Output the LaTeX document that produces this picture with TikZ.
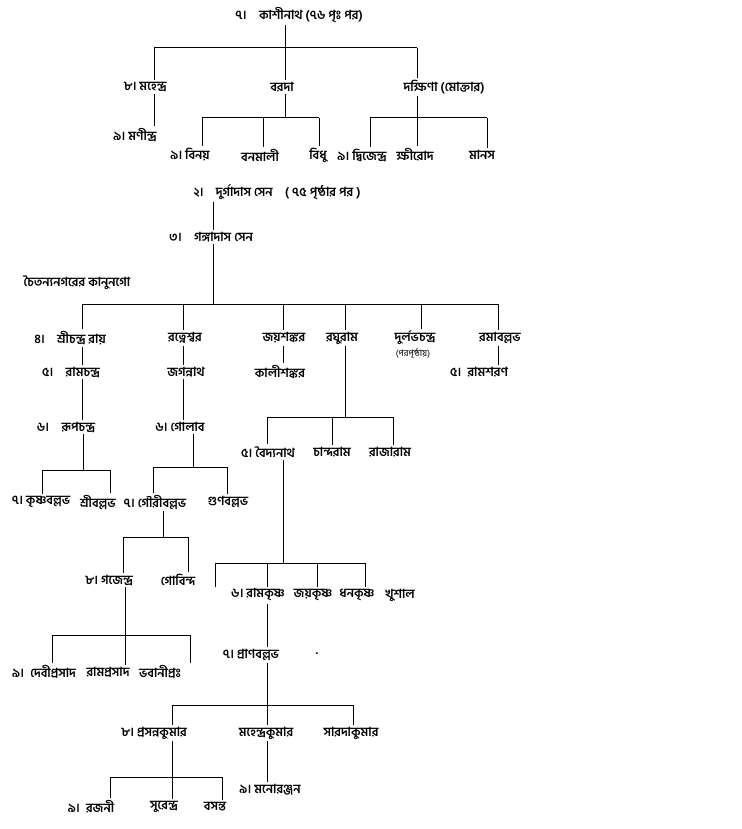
\documentclass[tikz,border=0pt]{standalone}
\usepackage{fontspec}
\newfontfamily\bn[Script=Bengali]{Hind Siliguri}
\begin{document}
\begin{tikzpicture}[x=1pt,y=-1pt]
 \tikzset{person/.style={inner sep=2pt, font=\bn\bfseries\fontsize{12.5}{15}\selectfont},
  note/.style={inner sep=1pt, font=\bn\fontsize{9}{11}\selectfont},
  tie/.style={line width=1pt}}
 \useasboundingbox (0,0) rectangle (741,829);
  % first table
  \node[person] (Kasi) at (299,15) {৭।\quad কাশীনাথ (৭৬ পৃঃ পর)};
  \node[person] (Mahen) at (145,87) {৮। মহেন্দ্র};
  \node[person] (Barada) at (282,87) {বরদা};
  \node[person] (Dakshina) at (444,87) {দক্ষিণা (মোক্তার)};
  \node[person] (Manin) at (135,135) {৯। মণীন্দ্র};
  \node[person] (Binay) at (190,155) {৯। বিনয়};
  \node[person] (Banamali) at (260,155) {বনমালী};
  \node[person] (Bidhu) at (318,155) {বিধু};
  \node[person] (Dwijen) at (362,155) {৯। দ্বিজেন্দ্র};
  \node[person] (Kshirod) at (415,155) {ক্ষীরোদ};
  \node[person] (Manas) at (482,155) {মানস};
  \coordinate (k1) at (154,48); \coordinate (k2) at (285,48); \coordinate (k3) at (417,48);
  \coordinate (b1) at (202,118); \coordinate (b2) at (263,118); \coordinate (b3) at (319,118);
  \coordinate (d1) at (370,118); \coordinate (d2) at (417,118); \coordinate (d3) at (487,118);
  \draw[tie] (k2 |- Kasi.south) -- (k2 |- Barada.north);
  \draw[tie] (k1) -- (k3);
  \draw[tie] (k1) -- (k1 |- Mahen.north);
  \draw[tie] (k3) -- (k3 |- Dakshina.north);
  \draw[tie] (k1 |- Mahen.south) -- (k1 |- Manin.north);
  \draw[tie] (k2 |- Barada.south) -- (k2 |- b1);
  \draw[tie] (b1) -- (b3);
  \draw[tie] (b1) -- (b1 |- Binay.north);
  \draw[tie] (b2) -- (b2 |- Banamali.north);
  \draw[tie] (b3) -- (b3 |- Bidhu.north);
  \draw[tie] (d2 |- Dakshina.south) -- (d2);
  \draw[tie] (d1) -- (d3);
  \draw[tie] (d1) -- (d1 |- Dwijen.north);
  \draw[tie] (d2) -- (d2 |- Kshirod.north);
  \draw[tie] (d3) -- (d3 |- Manas.north);
  % second table
  \node[person] (Durga) at (277,192) {২।\quad দুর্গাদাস সেন\quad( ৭৫ পৃষ্ঠার পর )};
  \node[person] (Ganga) at (211,237) {৩।\quad গঙ্গাদাস সেন};
  \node[person] (Kanungo) at (77,283) {চৈতন্যনগরের কানুনগো};
  \node[person] (Srichandra) at (70,338) {৪।\quad শ্রীচন্দ্র রায়};
  \node[person] (Ratnesh) at (185,338) {রত্নেশ্বর};
  \node[person] (Jaya) at (284,338) {জয়শঙ্কর};
  \node[person] (Raghu) at (342,338) {রঘুরাম};
  \node[person] (Durlabh) at (415,338) {দুর্লভচন্দ্র};
  \node[note] (Parapr) at (413,354) {(পরপৃষ্ঠায়)};
  \node[person] (Rama) at (500,338) {রমাবল্লভ};
  \node[person] (Ramchandra) at (71,372) {৫।\quad রামচন্দ্র};
  \node[person] (Jagannath) at (186,372) {জগন্নাথ};
  \node[person] (Kali) at (280,372) {কালীশঙ্কর};
  \node[person] (Ramsharan) at (479,372) {৫।\enspace রামশরণ};
  \node[person] (Rup) at (66,427) {৬।\quad রূপচন্দ্র};
  \node[person] (Golab) at (180,427) {৬। গোলাব};
  \node[person] (Baidya) at (268,452) {৫। বৈদ্যনাথ};
  \node[person] (Chandram) at (332,452) {চান্দরাম};
  \node[person] (Rajaram) at (390,452) {রাজারাম};
  \node[person] (Krishnab) at (41,502) {৭। কৃষ্ণবল্লভ};
  \node[person] (Sriballabh) at (98,502) {শ্রীবল্লভ};
  \node[person] (Gauri) at (155,502) {৭। গৌরীবল্লভ};
  \node[person] (Gunab) at (228,502) {গুণবল্লভ};
  \node[person] (Gajen) at (109,580) {৮। গজেন্দ্র};
  \node[person] (Gobinda) at (178,580) {গোবিন্দ};
  \node[person] (Ramkrishna) at (258,595) {৬। রামকৃষ্ণ};
  \node[person] (Jaykrishna) at (313,595) {জয়কৃষ্ণ};
  \node[person] (Dhankrishna) at (357,595) {ধনকৃষ্ণ};
  \node[person] (Khushal) at (400,595) {খুশাল};
  \node[person] (Pranab) at (251,655) {৭। প্রাণবল্লভ};
  \node[person] (Dot) at (317,654) {.};
  \node[person] (Debi) at (44,672) {৯।\enspace দেবীপ্রসাদ};
  \node[person] (Ramprasad) at (108,672) {রামপ্রসাদ};
  \node[person] (Bhabani) at (160,672) {ভবানীপ্রঃ};
  \node[person] (Prasanna) at (154,733) {৮। প্রসন্নকুমার};
  \node[person] (Mahenkumar) at (266,733) {মহেন্দ্রকুমার};
  \node[person] (Sarada) at (351,733) {সারদাকুমার};
  \node[person] (Manoranjan) at (270,790) {৯। মনোরঞ্জন};
  \node[person] (Rajani) at (91,807) {৯।\enspace রজনী};
  \node[person] (Surendra) at (164,807) {সুরেন্দ্র};
  \node[person] (Basanta) at (215,807) {বসন্ত};
  \coordinate (g0) at (213,304);
  \coordinate (g1) at (82,304); \coordinate (g2) at (183,304); \coordinate (g3) at (283,304);
  \coordinate (g4) at (345,304); \coordinate (g5) at (421,304); \coordinate (g6) at (498,304);
  \coordinate (r1) at (267,417); \coordinate (r2) at (332,417); \coordinate (r3) at (393,417);
  \coordinate (u0) at (83,470); \coordinate (u1) at (42,470); \coordinate (u2) at (110,470);
  \coordinate (o0) at (193,467); \coordinate (o1) at (153,467); \coordinate (o2) at (227,467);
  \coordinate (a0) at (163,537); \coordinate (a1) at (123,537); \coordinate (a2) at (188,537);
  \coordinate (v0) at (283,563); \coordinate (v1) at (215,563); \coordinate (v2) at (267,563);
  \coordinate (v3) at (317,563); \coordinate (v4) at (365,563);
  \coordinate (j0) at (125,635); \coordinate (j1) at (52,635); \coordinate (j3) at (190,635);
  \coordinate (p1) at (172,705); \coordinate (p2) at (267,705); \coordinate (p3) at (353,705);
  \coordinate (s1) at (110,777); \coordinate (s2) at (172,777); \coordinate (s3) at (222,777);
  \draw[tie] (g0 |- Durga.south) -- (g0 |- Ganga.north);
  \draw[tie] (g0 |- Ganga.south) -- (g0);
  \draw[tie] (g1) -- (g6);
  \draw[tie] (g1) -- (g1 |- Srichandra.north);
  \draw[tie] (g2) -- (g2 |- Ratnesh.north);
  \draw[tie] (g3) -- (g3 |- Jaya.north);
  \draw[tie] (g4) -- (g4 |- Raghu.north);
  \draw[tie] (g5) -- (g5 |- Durlabh.north);
  \draw[tie] (g6) -- (g6 |- Rama.north);
  \draw[tie] (g1 |- Srichandra.south) -- (g1 |- Ramchandra.north);
  \draw[tie] (g2 |- Ratnesh.south) -- (g2 |- Jagannath.north);
  \draw[tie] (g3 |- Jaya.south) -- (g3 |- Kali.north);
  \draw[tie] (g6 |- Rama.south) -- (g6 |- Ramsharan.north);
  \draw[tie] (g1 |- Ramchandra.south) -- (g1 |- Rup.north);
  \draw[tie] (g2 |- Jagannath.south) -- (g2 |- Golab.north);
  % raghuram
  \draw[tie] (g4 |- Raghu.south) -- (g4 |- r1);
  \draw[tie] (r1) -- (r3);
  \draw[tie] (r1) -- (r1 |- Baidya.north);
  \draw[tie] (r2) -- (r2 |- Chandram.north);
  \draw[tie] (r3) -- (r3 |- Rajaram.north);
  % rupchandra, golab
  \draw[tie] (u0 |- Rup.south) -- (u0);
  \draw[tie] (u1) -- (u2);
  \draw[tie] (u1) -- (u1 |- Krishnab.north);
  \draw[tie] (u2) -- (u2 |- Sriballabh.north);
  \draw[tie] (o0 |- Golab.south) -- (o0);
  \draw[tie] (o1) -- (o2);
  \draw[tie] (o1) -- (o1 |- Gauri.north);
  \draw[tie] (o2) -- (o2 |- Gunab.north);
  \draw[tie] (a0 |- Gauri.south) -- (a0);
  \draw[tie] (a1) -- (a2);
  \draw[tie] (a1) -- (a1 |- Gajen.north);
  \draw[tie] (a2) -- (a2 |- Gobinda.north);
  \draw[tie] (j0 |- Gajen.south) -- (j0);
  \draw[tie] (j1) -- (j3);
  \draw[tie] (j1) -- (j1 |- Debi.north);
  \draw[tie] (j0) -- (j0 |- Ramprasad.north);
  \draw[tie] (j3) -- (j3 |- Bhabani.north);
  % baidyanath
  \draw[tie] (v0 |- Baidya.south) -- (v0);
  \draw[tie] (v1) -- (v4);
  \draw[tie] (v1) -- (v1 |- Ramkrishna.north);
  \draw[tie] (v2) -- (v2 |- Jaykrishna.north);
  \draw[tie] (v3) -- (v3 |- Dhankrishna.north);
  \draw[tie] (v4) -- (v4 |- Khushal.north);
  \draw[tie] (v2 |- Ramkrishna.south) -- (v2 |- Pranab.north);
  \draw[tie] (p2 |- Pranab.south) -- (p2);
  \draw[tie] (p1) -- (p3);
  \draw[tie] (p1) -- (p1 |- Prasanna.north);
  \draw[tie] (p2) -- (p2 |- Mahenkumar.north);
  \draw[tie] (p3) -- (p3 |- Sarada.north);
  \draw[tie] (s2 |- Prasanna.south) -- (s2);
  \draw[tie] (s1) -- (s3);
  \draw[tie] (s1) -- (s1 |- Rajani.north);
  \draw[tie] (s2) -- (s2 |- Surendra.north);
  \draw[tie] (s3) -- (s3 |- Basanta.north);
  \draw[tie] (p2 |- Mahenkumar.south) -- (p2 |- Manoranjan.north);
\end{tikzpicture}
\end{document}
